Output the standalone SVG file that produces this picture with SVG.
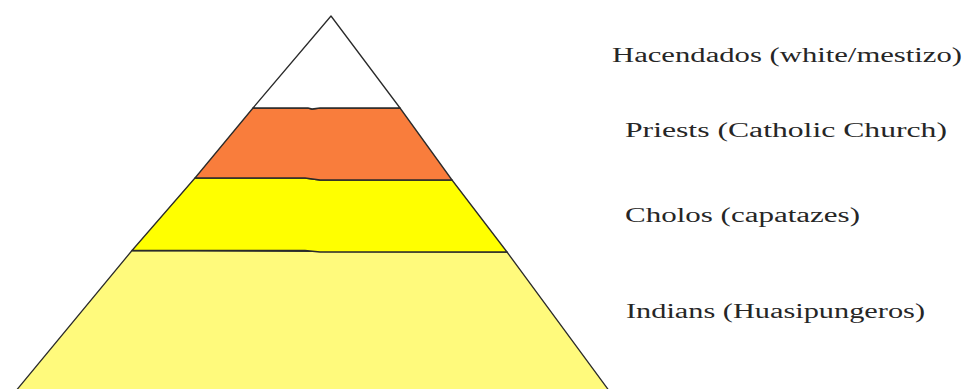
<svg xmlns="http://www.w3.org/2000/svg" width="965" height="389" viewBox="0 0 965 389">
<style>
.band{stroke:#2a2a2a;stroke-width:1.3;stroke-linejoin:round}
.lbl{font-family:"Liberation Serif","Times New Roman",serif;font-size:20px;fill:#262626}
</style>
<rect width="965" height="389" fill="#ffffff"/>
<g id="pyramid">
<g id="tier-indians"><polygon class="band" fill="#FFFA7C" points="132,250.5 507,252 610,392 15,392"/></g>
<g id="tier-cholos"><polygon class="band" fill="#FFFF00" points="195,178 305,178 320,180 452,180 507,252 320,252 305,250.5 132,250.5"/></g>
<g id="tier-priests"><polygon class="band" fill="#F97D3C" points="253,108 308,108 312,109 320,108 400,108 452,180 320,180 305,178 195,178"/></g>
<g id="tier-hacendados"><polygon class="band" fill="#ffffff" points="331,16 400,108 320,108 312,109 308,108 253,108"/></g>
</g>
<g id="labels">
<text class="lbl" x="612" y="62" textLength="350" lengthAdjust="spacingAndGlyphs">Hacendados (white/mestizo)</text>
<text class="lbl" x="625" y="137" textLength="322" lengthAdjust="spacingAndGlyphs">Priests (Catholic Church)</text>
<text class="lbl" x="625" y="222" textLength="235" lengthAdjust="spacingAndGlyphs">Cholos (capatazes)</text>
<text class="lbl" x="626" y="318" textLength="299" lengthAdjust="spacingAndGlyphs">Indians (Huasipungeros)</text>
</g>
<g id="connectors"></g>
</svg>
